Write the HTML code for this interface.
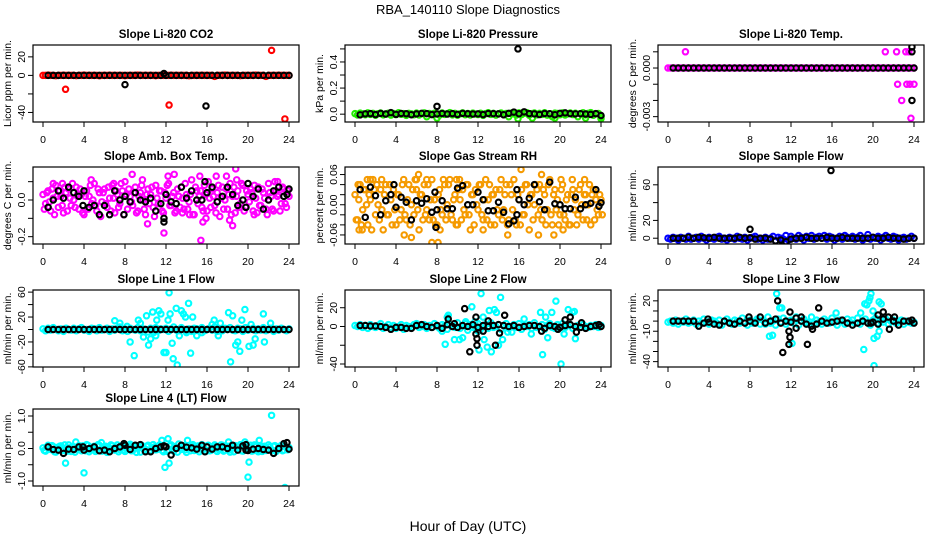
<!DOCTYPE html>
<html><head><meta charset="utf-8"><style>
html,body{margin:0;padding:0;background:#fff;}
svg{display:block;font-family:"Liberation Sans",sans-serif;}
</style></head><body>
<svg id="chart" width="936" height="540" viewBox="0 0 936 540">
<text x="468" y="14" text-anchor="middle" font-size="13">RBA_140110  Slope Diagnostics</text>
<text x="468" y="531" text-anchor="middle" font-size="14">Hour of Day (UTC)</text>
</svg>
<script>
const colHours=[];for(let i=0;i<=96;i++)colHours.push(i*0.25);
const colHoursB=[];for(let i=0;i<=96;i++)colHoursB.push(i*0.25+0.125);
const blkHours=[];for(let j=0;j<48;j++)blkHours.push(0.5+0.5*j);
const xTicks=[0,4,8,12,16,20,24];

const co2A=[0,0,0.3,0,0,-0.3,0,0,0.2,0,0,0,0,-0.2,0,0,0.3,0,0,0,0,0,-0.3,0,0,0,0.2,0,0,0,0,0,-0.2,0,0,0,0,0.3,0,0,0,0,0,0,-0.2,0,0,0,0,0,0.2,0,0,0,0,0,0,-0.3,0,0,0,0,0.2,0,0,0,0,-1,0,0,0,0.3,0,0,0,0,0,-0.2,0,0,0,0,0,0.3,0,0,0,-1,0,0,0,0,0.2,0,0,0,0];
const co2AOut=[[2.2,-15],[12.3,-32],[22.3,27],[23.6,-47]];
const co2K=[0,0,0,0,0,0,0,0,0,0,0,0,0,0,0,0,0,0,0,0,0,0,0,0,0,0,0,0,0,0,0,0,0,0,0,0,0,0,0,0,0,0,0,0,0,0,0,0];
const co2KOut=[[8,-10],[11.8,2],[15.9,-33]];

const presA=[0.004,-0.006,0.008,0.002,-0.004,0.010,-0.002,0.006,-0.008,0.003,0.009,-0.005,0.001,0.007,-0.007,0.005,-0.003,0.011,-0.001,0.004,-0.009,0.006,0.002,-0.004,0.008,-0.006,0.003,0.010,-0.02,0.005,-0.003,0.007,0.001,-0.007,0.009,-0.002,0.004,0.012,-0.005,0.006,-0.008,0.002,0.010,-0.004,0.005,-0.006,0.008,0.001,-0.003,0.007,-0.009,0.004,0.011,-0.002,0.006,-0.007,0.003,0.009,-0.004,0.005,-0.02,0.008,0.002,-0.006,0.010,-0.003,0.007,0.012,-0.008,0.004,0.009,-0.005,0.006,-0.002,0.011,-0.007,0.003,-0.02,0.008,0.005,-0.004,0.010,-0.006,0.002,0.009,-0.003,0.007,-0.02,0.004,0.011,-0.005,0.006,0.012,-0.008,0.003,0.005,-0.02];
const presAOut=[[8,-0.03],[15.9,-0.035],[17.3,-0.03],[19.5,-0.03],[22.5,-0.03],[24,-0.035]];
const presK=[-0.005,0.002,0.004,-0.003,0.006,0.001,0.012,-0.002,0.005,0.003,-0.004,0.002,0.006,0.004,-0.003,0.002,0.005,0.001,0.004,-0.002,0.006,0.003,0.001,0.002,-0.003,0.005,0.004,0.002,-0.004,0.006,0.016,0.003,0.018,0.004,0.002,-0.003,0.005,0.003,-0.004,0.006,0.010,0.004,0.002,0.003,0.001,-0.002,0.004,-0.01];
const presKOut=[[8,0.06],[15.9,0.5]];

const tempA=[0,0,0,0,0,0,0,0,0,0,0,0,0,0,0,0,0,0,0,0,0,0,0,0,0,0,0,0,0,0,0,0,0,0,0,0,0,0,0,0,0,0,0,0,0,0,0,0,0,0,0,0,0,0,0,0,0,0,0,0,0,0,0,0,0,0,0,0,0,0,0,0,0,0,0,0,0,0,0,0,0,0,0,0,0,0,0,0,0,0,0,0,0,0,0,0,0];
const tempAOut=[[1.7,0.001],[21.2,0.001],[22.3,0.001],[23.2,0.001],[23.5,0.001],[22.4,-0.001],[23.3,-0.001],[23.6,-0.001],[24,-0.001],[22.8,-0.002],[23.7,-0.0031]];
const tempK=[0,0,0,0,0,0,0,0,0,0,0,0,0,0,0,0,0,0,0,0,0,0,0,0,0,0,0,0,0,0,0,0,0,0,0,0,0,0,0,0,0,0,0,0,0,0,0,0];
const tempKOut=[[23.8,0.0013],[23.8,0.001],[23.8,-0.002]];

const ambA=[0.03,-0.02,0.05,-0.06,0.01,0.08,-0.04,0.02,-0.07,0.04,0.06,-0.03,0.00,0.07,-0.05,0.03,-0.08,0.05,0.02,-0.02,0.09,-0.06,0.04,-0.01,0.06,-0.04,0.01,0.08,-0.07,0.03,-0.02,0.05,0.10,-0.05,0.02,-0.03,0.07,-0.06,0.04,0.00,-0.08,0.06,0.03,-0.04,0.08,-0.02,0.05,-0.07,0.01,0.09,-0.03,0.04,-0.06,0.02,0.07,-0.05,0.03,-0.01,0.11,-0.08,0.05,0.02,-0.04,0.08,-0.06,0.01,0.06,-0.03,0.04,-0.09,0.07,0.00,-0.05,0.09,0.02,-0.07,0.05,-0.02,0.08,-0.04,0.03,0.06,-0.06,0.01,0.07,-0.03,0.04,-0.05,0.09,0.02,-0.06,0.05,0.03,-0.02,0.06,-0.04,0.02];
const ambB=[-0.05,0.04,-0.01,0.06,-0.08,0.02,0.05,-0.03,0.07,-0.06,0.01,0.09,-0.04,0.03,0.06,-0.07,0.02,-0.05,0.08,0.00,-0.03,0.06,-0.09,0.04,-0.02,0.07,-0.06,0.01,0.05,-0.04,0.09,-0.08,0.03,0.06,-0.01,0.04,-0.07,0.02,0.08,-0.05,0.03,-0.02,0.07,-0.09,0.01,0.05,-0.06,0.04,0.08,-0.03,0.02,-0.07,0.06,-0.04,0.01,0.09,-0.05,0.03,-0.08,0.07,-0.02,0.05,-0.06,0.03,0.10,-0.04,0.02,-0.07,0.08,0.01,-0.05,0.06,0.03,-0.08,0.07,0.02,-0.04,0.09,-0.06,0.05,-0.01,0.04,0.08,-0.07,-0.03,0.06,0.01,-0.08,0.04,-0.05,0.10,0.02,-0.06,0.07,-0.02,0.05];
const ambAOut=[[15.4,-0.22],[15.6,-0.12],[15.9,-0.1],[10.2,-0.13],[18.5,-0.14],[18.2,-0.11],[18.8,0.17],[18.9,0.11],[8.7,0.14],[12.2,0.13],[12.8,0.14],[15.3,0.13],[4.7,0.11],[6.9,0.09],[1.0,0.09],[1.9,0.09],[9.7,0.11],[22.9,0.1],[16.9,0.13],[17.9,0.13],[11.8,-0.18],[13.6,-0.07],[20.6,-0.08],[14.3,-0.08]];
const ambK=[-0.04,0.00,0.05,0.01,0.07,0.04,0.02,0.05,-0.04,-0.03,-0.08,-0.03,-0.08,0.05,0.00,0.02,-0.01,0.04,0.00,-0.01,0.01,-0.06,-0.02,0.03,-0.01,-0.02,0.07,0.01,0.05,0.00,0.00,0.04,0.07,-0.01,0.02,0.07,0.03,-0.03,0.00,0.09,0.02,0.06,-0.05,0.00,0.05,0.07,0.02,0.06];
const ambKOut=[[3.9,-0.03],[7.9,-0.08],[11.8,-0.12],[11.8,-0.1],[15.8,0.1],[19.8,-0.04],[23.8,0.03]];

const rhA=[0.02,-0.03,0.04,-0.01,0.03,-0.04,0.01,0.05,-0.02,0.00,0.03,-0.05,0.04,-0.02,0.01,0.03,-0.04,0.02,-0.01,0.05,-0.03,0.04,0.00,-0.02,0.03,-0.05,0.02,0.04,-0.01,-0.03,0.05,0.01,-0.04,0.03,-0.02,0.04,0.00,0.05,-0.03,0.02,-0.04,0.01,0.03,-0.02,0.04,-0.05,0.02,0.03,-0.01,0.04,-0.03,0.05,0.01,-0.04,0.02,0.03,-0.02,0.05,-0.01,0.04,-0.03,0.02,0.05,-0.04,0.01,0.03,-0.02,0.04,-0.05,0.02,0.00,0.03,0.04,-0.03,0.02,-0.01,0.05,-0.04,0.03,0.01,-0.02,0.04,-0.03,0.02,-0.04,0.03,0.01,-0.02,0.04,-0.03,0.02,0.00,-0.04,0.03,0.01,-0.02,0.01];
const rhB=[-0.03,0.01,-0.04,0.03,0.00,0.02,-0.05,0.03,0.04,-0.03,-0.01,0.02,-0.02,0.04,-0.04,-0.01,0.02,-0.03,0.04,-0.02,0.01,-0.04,0.03,0.05,-0.01,0.02,-0.03,-0.02,0.04,0.01,-0.03,-0.04,0.02,-0.01,0.05,-0.03,0.04,-0.02,0.01,-0.04,0.03,-0.03,-0.01,0.04,-0.02,0.02,-0.04,0.00,0.04,-0.02,0.01,-0.03,0.04,0.02,-0.04,-0.01,0.03,-0.03,0.02,-0.04,0.04,-0.01,-0.03,0.02,-0.04,-0.02,0.04,0.00,0.02,-0.03,0.04,-0.02,-0.01,0.03,-0.04,0.04,-0.02,0.02,-0.01,-0.04,0.03,-0.02,0.01,-0.04,0.02,-0.01,-0.04,0.03,0.00,0.02,-0.03,0.04,0.02,-0.03,-0.01,0.02,-0.02];
const rhAOut=[[0.3,0.04],[1.2,0.05],[1.5,0.05],[2.6,0.05],[6.2,0.06],[6.0,0.05],[7.0,0.05],[9.9,0.05],[10.2,0.05],[16.2,0.07],[18.2,0.06],[20.1,0.05],[21.2,0.05],[22.4,0.05],[0.4,-0.05],[0.7,-0.05],[4.8,-0.06],[5.5,-0.065],[7.5,-0.075],[8.1,-0.075],[12.5,-0.05],[14.9,-0.06],[17.9,-0.06],[19.4,-0.06],[20.3,-0.05],[8.3,-0.05]];
const rhK=[0.03,-0.025,0.035,0.018,-0.02,0.008,0.02,-0.005,0.015,0.005,-0.03,0.008,0.003,0.012,-0.015,-0.01,0.008,-0.008,-0.008,0.033,0.038,0.0,0.0,0.025,0.01,-0.012,-0.012,0.005,-0.015,-0.038,-0.032,0.01,0.0,0.013,0.04,0.006,-0.01,0.045,0.002,0.0,-0.008,-0.008,0.015,-0.008,0.0,0.003,0.03,0.004];
const rhKOut=[[3.8,0.04],[7.9,-0.045],[7.8,0.025],[15.8,0.03],[15.8,-0.02],[23.8,-0.003]];

const sfA=[0,-1,1,0,-2,1,0,-1,2,-1,0,1,-1,2,0,-2,1,0,-1,1,2,-1,0,-2,1,0,-1,2,0,-1,1,-2,0,1,2,-1,0,-2,1,-1,0,2,-3,1,0,-1,3,-2,2,0,-1,3,1,-2,2,0,3,-1,1,2,0,3,-1,2,1,-2,0,2,-1,3,1,0,2,-1,1,3,-2,0,4,-1,1,0,2,-2,1,3,0,-1,2,1,-2,0,1,-1,0,2,0];
const sfAOut=[];
const sfK=[0,0,0,1,0,1,0.5,0,1,0,0,0,0,1,0,0.5,-1,0,0,-1,-3,-2,-4,-1,0,0,1,0,0,0,1,0,0,1,0,0,0,0,0,1,0,0,1,0,0,-1,0,0];
const sfKOut=[[8,10],[15.9,76]];

const l1A=[1,-2,2,-1,3,0,-2,1,-3,2,0,-1,2,-2,1,3,-1,0,-3,2,1,-2,3,-1,0,2,-3,1,-1,2,4,-2,1,-3,2,0,-1,3,-2,1,0,-4,2,-1,3,-2,1,0,2,-3,1,4,-1,-2,3,0,-2,1,-3,2,1,-1,3,-2,0,2,-1,4,-3,1,-2,2,0,3,-1,-2,2,1,-3,3,-1,0,2,-2,1,-1,3,-2,0,2,-3,1,-1,2,0,-2,1];
const l1AOut=[[7,14],[7.5,10],[8.5,-20],[8.9,-42],[9.3,15],[9.5,10],[9.8,-12],[10.1,22],[10.3,-25],[10.5,-15],[10.7,28],[11,-10],[11.3,30],[11.5,25],[11.8,-37],[12,-37],[12.3,59],[12.4,25],[12.6,-22],[12.7,-47],[13,34],[13.1,-57],[13.3,-10],[13.5,30],[13.7,25],[13.9,20],[14.2,42],[14.4,-38],[14.6,20],[15,-10],[16.7,15],[17.1,-10],[18.1,27],[18.3,-52],[18.5,22],[18.8,-25],[19,-20],[19.2,-35],[19.4,15],[19.7,32],[20.1,-27],[20.5,-25],[20.7,-15],[21.5,25],[21.6,-20],[22.2,10],[17.3,10],[16.5,8],[20.3,8],[15.5,-5],[8.2,5],[10.8,-5],[12.2,15],[14,-5],[11.1,15]];
const l1K=[0,0,0,0,0,0,0,0,0,0,0,0,0,0,0,0,0,0,0,0,0,0,0,0,0,0,0,0,0,0,0,0,0,0,0,0,0,0,0,0,0,0,0,0,0,0,0,0];
const l1KOut=[];

const l2A=[1,0,2,-1,1,-2,2,0,-1,1,3,-2,0,2,-1,1,-2,0,2,-3,1,0,-1,2,3,-1,0,2,-2,1,-1,3,0,-2,2,1,-3,2,0,-1,4,-2,1,3,-4,2,-1,0,3,-3,1,2,-2,4,-1,0,2,-3,1,3,-2,0,2,-1,3,-3,1,0,2,-2,4,-1,0,2,-3,1,3,-1,-2,2,0,3,-1,1,2,-2,0,1,-1,2,0,-1,1,0,2,-1,1];
const l2AOut=[[8.5,-5],[8.8,-19],[9.1,12],[9.7,-14],[10.2,-14],[10.5,-12],[11.4,21],[11.7,5],[12.1,-25],[12.3,35],[12.5,10],[12.6,-14],[12.9,-22],[13.1,17],[13.3,-27],[13.6,18],[13.8,15],[14,-20],[14.2,31],[14.4,-14],[14.9,-6],[16.5,8],[17.2,-8],[18.1,15],[18.3,-30],[18.6,10],[18.8,-12],[19.2,15],[19.6,27],[20.1,-40],[20.4,-8],[20.8,18],[21.2,15],[21.5,-13],[21.4,16],[9,10],[10.8,5],[15.3,-6],[12,-5]];
const l2K=[1,1,0.5,0.5,0,-1,-3,-1,-1,-2,-2,1,2,0,-1,1,-2,2,0,-1,1,0,2,-1,1,0,1,2,1,0,1,-1,0,1,1,0,-2,1,0,-1,1,2,0,-1,-2,0,1,0];
const l2KOut=[[9.1,8],[9.7,3],[10.7,19],[11.2,-27],[11.8,10],[11.8,-8],[11.9,-13],[11.9,-20],[12.5,-5],[13.0,6],[13.7,-20],[14.1,-7],[14.6,12],[18.2,-5],[19.8,-3],[20.5,7],[21,10],[21.6,-6],[22.1,4],[23.8,2]];

const l3A=[-1,0,-2,1,-3,0,-1,2,-2,-1,1,-3,0,-2,2,-1,-3,1,0,-2,1,-4,0,2,-1,-3,1,0,-2,3,-1,-4,1,-2,0,2,-3,1,-1,4,-2,0,-4,2,-1,3,-3,0,1,-2,3,-4,0,2,-1,-3,4,-2,1,-1,-3,2,0,-2,3,-1,-4,1,0,-3,2,-1,1,-2,3,-3,0,2,-1,-4,1,3,-2,0,-1,2,-3,0,1,-2,-1,1,-3,0,-1,-2,-1];
const l3AOut=[[10.6,27],[10.9,13],[11.1,13],[9.9,-15],[10.2,-14],[12.1,-22],[9.5,-3],[16.4,8],[18.8,8],[19.2,17],[19.4,16],[19.7,23],[19.8,27],[19.6,20],[20.1,-17],[20.4,-15],[20.6,-10],[20.6,19],[20.8,17],[19.1,-28],[20.1,-44],[12.5,4],[8.7,2],[20,10]];
const l3K=[0,0,0,0,0,-5,-2,-1,-3,-4,0,-2,-3,0,-2,0,-2,4,-2,0,2,-2,0,-1,3,0,-3,-5,-3,0,-2,-1,0,1,-2,-4,-2,0,-2,-1,-3,2,4,0,-4,0,0,-2];
const l3KOut=[[10.7,20],[11.2,-31],[11.8,-10],[11.9,-16],[11.8,-23],[11.9,9],[12.5,-7],[13,4],[13.6,-23],[14.1,-8],[14.7,13],[3.9,2],[7.9,4],[19.8,-2],[20.5,6],[21,9],[21.6,-8],[22.1,4],[23.8,1]];

const l4A=[0.02,-0.08,0.10,-0.03,0.06,-0.11,0.04,0.08,-0.06,0.01,0.11,-0.09,0.05,-0.02,0.09,-0.07,0.03,0.12,-0.10,0.00,0.07,-0.04,0.10,-0.08,0.06,-0.12,0.02,0.09,-0.05,0.11,-0.03,0.07,-0.09,0.04,0.13,-0.06,0.01,0.08,-0.11,0.05,-0.02,0.10,-0.07,0.12,-0.04,0.03,0.09,-0.10,0.06,-0.05,0.11,-0.08,0.02,0.14,-0.03,0.07,-0.12,0.05,0.09,-0.06,0.03,-0.10,0.12,-0.02,0.08,-0.07,0.04,0.11,-0.09,0.01,0.10,-0.05,0.07,-0.11,0.03,0.09,-0.04,0.12,-0.08,0.05,-0.02,0.10,-0.07,0.06,-0.10,0.08,0.02,-0.06,0.11,-0.03,0.07,-0.09,0.04,0.10,-0.05,0.02,0.03];
const l4B=[-0.06,0.05,-0.02,0.09,-0.10,0.03,0.07,-0.04,0.11,-0.08,0.02,0.06,-0.11,0.04,-0.01,0.08,-0.07,0.10,-0.03,0.05,-0.09,0.12,-0.05,0.02,0.07,-0.06,0.11,-0.02,0.04,-0.10,0.08,-0.04,0.01,0.09,-0.07,0.06,-0.12,0.03,0.10,-0.05,0.07,-0.08,0.02,0.05,-0.03,0.11,-0.06,0.04,-0.09,0.08,-0.01,0.06,-0.11,0.03,0.09,-0.04,0.02,-0.07,0.12,-0.05,0.08,-0.02,0.04,-0.09,0.10,-0.06,0.01,0.07,-0.03,0.11,-0.08,0.05,-0.04,0.09,-0.10,0.02,0.06,-0.07,0.10,-0.02,0.04,-0.08,0.11,-0.05,0.03,-0.09,0.07,-0.01,0.05,-0.06,0.09,-0.03,0.02,-0.07,0.06,-0.04];
const l4AOut=[[2.2,-0.45],[4,-0.75],[3.2,0.2],[11.6,0.25],[11.9,-0.58],[12.2,0.3],[12.3,-0.45],[14.1,0.25],[20,-0.88],[20.1,-0.42],[22.3,1.02],[23.6,-1.2],[21.1,0.25],[19.7,0.2],[5.7,0.18],[18.1,0.2]];
const l4K=[0.05,-0.03,-0.05,-0.15,-0.02,-0.03,0.05,-0.05,0.00,0.05,-0.07,-0.05,-0.1,0.0,0.05,0.1,-0.03,0.1,0.12,-0.1,-0.1,0.0,0.05,0.05,-0.2,0.0,0.1,0.04,0.02,-0.02,0.1,0.05,-0.02,0.05,0.05,0.0,0.1,-0.05,0.08,-0.06,-0.02,0.0,-0.03,-0.05,-0.15,0.0,0.15,-0.02];
const l4KOut=[[3.9,0.05],[7.9,0.15],[11.8,0.08],[15.8,-0.1],[19.8,0.12],[19.8,-0.05],[23.8,0.18]];

const panels=[
 {key:"co2",title:"Slope Li-820 CO2",ylab:"Licor ppm per min.",col:0,row:0,dom:[-50.3,32.8],ticks:[-40,-20,0,20],tl:["-40","","0","20"],color:"#ff0000",A:co2A,B:null,AO:co2AOut,K:co2K,KO:co2KOut},
 {key:"pressure",title:"Slope Li-820 Pressure",ylab:"kPa per min.",col:1,row:0,dom:[-0.06,0.53],ticks:[0,0.1,0.2,0.3,0.4,0.5],tl:["0.0","","0.2","","0.4",""],color:"#22ee00",A:presA,B:null,AO:presAOut,K:presK,KO:presKOut},
 {key:"temp",title:"Slope Li-820 Temp.",ylab:"degrees C per min.",col:2,row:0,dom:[-0.00333,0.00142],ticks:[-0.003,-0.002,-0.001,0,0.001],tl:["-0.003","","","0.000",""],color:"#ff00ff",A:tempA,B:null,AO:tempAOut,K:tempK,KO:tempKOut},
 {key:"amb-box-temp",title:"Slope Amb. Box Temp.",ylab:"degrees C per min.",col:0,row:1,dom:[-0.24,0.18],ticks:[-0.2,-0.1,0,0.1],tl:["-0.2","","0.0",""],color:"#ff00ff",A:ambA,B:ambB,AO:ambAOut,K:ambK,KO:ambKOut},
 {key:"gas-stream-rh",title:"Slope Gas Stream RH",ylab:"percent per min.",col:1,row:1,dom:[-0.078,0.075],ticks:[-0.06,-0.04,-0.02,0,0.02,0.04,0.06],tl:["-0.06","","","0.00","","","0.06"],color:"#f59a00",A:rhA,B:rhB,AO:rhAOut,K:rhK,KO:rhKOut},
 {key:"sample-flow",title:"Slope Sample Flow",ylab:"ml/min per min.",col:2,row:1,dom:[-6.5,80],ticks:[0,20,40,60],tl:["0","20","","60"],color:"#0000ff",A:sfA,B:null,AO:sfAOut,K:sfK,KO:sfKOut},
 {key:"line1-flow",title:"Slope Line 1 Flow",ylab:"ml/min per min.",col:0,row:2,dom:[-60.2,63.4],ticks:[-60,-40,-20,0,20,40,60],tl:["-60","","-20","","20","","60"],color:"#00ffff",A:l1A,B:null,AO:l1AOut,K:l1K,KO:l1KOut},
 {key:"line2-flow",title:"Slope Line 2 Flow",ylab:"ml/min per min.",col:1,row:2,dom:[-43.2,38.9],ticks:[-40,-20,0,20],tl:["-40","","0","20"],color:"#00ffff",A:l2A,B:null,AO:l2AOut,K:l2K,KO:l2KOut},
 {key:"line3-flow",title:"Slope Line 3 Flow",ylab:"ml/min per min.",col:2,row:2,dom:[-45.3,30.7],ticks:[-40,-30,-20,-10,0,10,20],tl:["-40","","","-10","","","20"],color:"#00ffff",A:l3A,B:null,AO:l3AOut,K:l3K,KO:l3KOut},
 {key:"line4-flow",title:"Slope Line 4 (LT) Flow",ylab:"ml/min per min.",col:0,row:3,dom:[-1.154,1.215],ticks:[-1,-0.5,0,0.5,1],tl:["-1.0","","0.0","","1.0"],color:"#00ffff",A:l4A,B:l4B,AO:l4AOut,K:l4K,KO:l4KOut}
];
const colLeft=[33,345,658], rowTop=[45,167,290,409], boxW=266, boxH=77;
const NS="http://www.w3.org/2000/svg";
const svg=document.getElementById('chart');
function mk(tag,attrs,parent){const e=document.createElementNS(NS,tag);for(const k in attrs)e.setAttribute(k,attrs[k]);parent.appendChild(e);return e;}

panels.forEach(p=>{
  const L=colLeft[p.col], T=rowTop[p.row], R=L+boxW, B=T+boxH;
  const xs=h=>L+10+(h/24)*(boxW-20);
  const ys=v=>B-(v-p.dom[0])/(p.dom[1]-p.dom[0])*boxH;
  const g=mk('g',{},svg);
  
  
  const clip=mk('clipPath',{id:'clip-'+p.key},g);
  mk('rect',{x:L,y:T,width:boxW,height:boxH},clip);
  const title=mk('text',{x:(L+R)/2,y:T-7,'text-anchor':'middle','font-size':'11.5','font-weight':'bold'},g);
  title.textContent=p.title;
  
  
  const yl=mk('text',{x:L-22,y:(T+B)/2,'text-anchor':'middle','font-size':'10.5',transform:`rotate(-90 ${L-22} ${(T+B)/2})`},g);
  yl.textContent=p.ylab;
  
  
  p.ticks.forEach((t,i)=>{
    const y=ys(t);
    const tk=mk('line',{x1:L-5,x2:L,y1:y,y2:y,stroke:'#000','stroke-width':1},g);
    
    
    if(p.tl[i]){
      const tx=mk('text',{x:L-8,y:y,'text-anchor':'middle','font-size':'10.5',transform:`rotate(-90 ${L-8} ${y})`},g);
      tx.textContent=p.tl[i];
      
      
    }
  });
  xTicks.forEach(h=>{
    const x=xs(h);
    const tk=mk('line',{x1:x,x2:x,y1:B,y2:B+5,stroke:'#000','stroke-width':1},g);
    
    
    const tx=mk('text',{x:x,y:B+21,'text-anchor':'middle','font-size':'10.5'},g);
    tx.textContent=String(h);
    
    
  });
  const pts=mk('g',{'clip-path':`url(#clip-${p.key})`,fill:'none','stroke-width':2.1},g);
  
  
  function dot(h,v,color,name){
    const c=mk('circle',{cx:xs(h),cy:ys(v),r:2.7,stroke:color},pts);
    
    
  }
  p.A.forEach((v,i)=>{if(i<colHours.length)dot(colHours[i],v,p.color,'colored-point');});
  if(p.B)p.B.forEach((v,i)=>{if(i<colHoursB.length)dot(colHoursB[i],v,p.color,'colored-point');});
  p.AO.forEach(d=>dot(d[0],d[1],p.color,'colored-outlier'));
  p.K.forEach((v,i)=>{if(i<blkHours.length)dot(blkHours[i],v,'#000','black-point');});
  p.KO.forEach(d=>dot(d[0],d[1],'#000','black-outlier'));
  const box=mk('rect',{x:L,y:T,width:boxW,height:boxH,fill:'none',stroke:'#000','stroke-width':1.2},g);
  
  
});
</script>
</body></html>
